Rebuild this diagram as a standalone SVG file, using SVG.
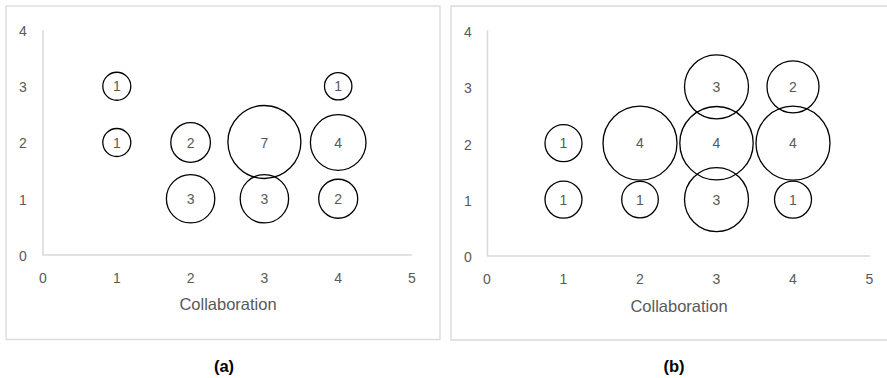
<svg xmlns="http://www.w3.org/2000/svg" width="887" height="378" viewBox="0 0 887 378">
<style>
.frame{fill:#fff;stroke:#d9d9d9;stroke-width:1.3}
.axis{stroke:#d9d9d9;stroke-width:1.5;fill:none}
.t{font-family:"Liberation Sans",Arial,sans-serif;font-size:14px;fill:#595959;text-anchor:middle}
.title{font-family:"Liberation Sans",Arial,sans-serif;font-size:16.5px;fill:#595959;text-anchor:middle}
.cap{font-family:"Liberation Sans",Arial,sans-serif;font-size:16.5px;font-weight:bold;fill:#000;text-anchor:middle}
.b{fill:none;stroke:#000;stroke-width:1.3}
.l{font-family:"Liberation Sans",Arial,sans-serif;font-size:14px;fill:#595959;text-anchor:middle}
</style>
<rect width="887" height="378" fill="#fff"/>
<g id="chart-a">
<rect class="frame" x="6" y="6" width="434" height="333.5"/>
<path class="axis" d="M43,30V255H412"/>
<g class="t">
<text x="23" y="36">4</text><text x="23" y="92">3</text><text x="23" y="148">2</text><text x="23" y="204.5">1</text><text x="23" y="261">0</text>
<text x="43" y="282.5">0</text><text x="116.8" y="282.5">1</text><text x="190.6" y="282.5">2</text><text x="264.4" y="282.5">3</text><text x="338.2" y="282.5">4</text><text x="412" y="282.5">5</text>
</g>
<text class="title" x="228" y="309.8">Collaboration</text>
<text class="cap" x="224" y="371.5">(a)</text>
</g>
<g id="chart-b">
<path class="frame" d="M887,6H451V340H887"/>
<path class="axis" d="M487.5,30.5V256H870"/>
<g class="t">
<text x="468" y="37">4</text><text x="468" y="93">3</text><text x="468" y="149.5">2</text><text x="468" y="205.5">1</text><text x="468" y="262">0</text>
<text x="487" y="283.5">0</text><text x="563.5" y="283.5">1</text><text x="640" y="283.5">2</text><text x="716.5" y="283.5">3</text><text x="793" y="283.5">4</text><text x="869.5" y="283.5">5</text>
</g>
<text class="title" x="679" y="311.5">Collaboration</text>
<text class="cap" x="674" y="371.5">(b)</text>
</g>
<g id="a-1-3"><circle class="b" cx="116.8" cy="86.25" r="14"/><text class="l" x="116.8" y="91.3">1</text></g>
<g id="a-1-2"><circle class="b" cx="116.8" cy="142.5" r="14"/><text class="l" x="116.8" y="147.6">1</text></g>
<g id="a-2-2"><circle class="b" cx="190.6" cy="142.5" r="19.8"/><text class="l" x="190.6" y="147.6">2</text></g>
<g id="a-2-1"><circle class="b" cx="190.6" cy="198.75" r="24.2"/><text class="l" x="190.6" y="203.8">3</text></g>
<g id="a-3-2"><circle class="b" cx="264.4" cy="142" r="36.5"/><text class="l" x="264.4" y="147.6">7</text></g>
<g id="a-3-1"><circle class="b" cx="264.4" cy="198.75" r="24.2"/><text class="l" x="264.4" y="203.8">3</text></g>
<g id="a-4-3"><circle class="b" cx="338.2" cy="86.25" r="13.7"/><text class="l" x="338.2" y="91.3">1</text></g>
<g id="a-4-2"><circle class="b" cx="338.2" cy="142.5" r="27.8"/><text class="l" x="338.2" y="147.6">4</text></g>
<g id="a-4-1"><circle class="b" cx="338.2" cy="198.75" r="19.5"/><text class="l" x="338.2" y="203.8">2</text></g>
<g id="b-1-2"><circle class="b" cx="563.5" cy="143.2" r="18.5"/><text class="l" x="563.5" y="148.3">1</text></g>
<g id="b-1-1"><circle class="b" cx="563.5" cy="199.6" r="18.5"/><text class="l" x="563.5" y="204.7">1</text></g>
<g id="b-2-2"><circle class="b" cx="640" cy="143.2" r="37"/><text class="l" x="640" y="148.3">4</text></g>
<g id="b-2-1"><circle class="b" cx="640" cy="199.6" r="18.3"/><text class="l" x="640" y="204.7">1</text></g>
<g id="b-3-3"><circle class="b" cx="716.5" cy="86.8" r="32"/><text class="l" x="716.5" y="91.9">3</text></g>
<g id="b-3-2"><circle class="b" cx="716.5" cy="143.2" r="36.7"/><text class="l" x="716.5" y="148.3">4</text></g>
<g id="b-3-1"><circle class="b" cx="716.5" cy="199.6" r="32"/><text class="l" x="716.5" y="204.7">3</text></g>
<g id="b-4-3"><circle class="b" cx="793" cy="86.8" r="26"/><text class="l" x="793" y="91.9">2</text></g>
<g id="b-4-2"><circle class="b" cx="793" cy="143.2" r="37"/><text class="l" x="793" y="148.3">4</text></g>
<g id="b-4-1"><circle class="b" cx="793" cy="199.6" r="18.5"/><text class="l" x="793" y="204.7">1</text></g>
<g id="connectors"/>
</svg>
